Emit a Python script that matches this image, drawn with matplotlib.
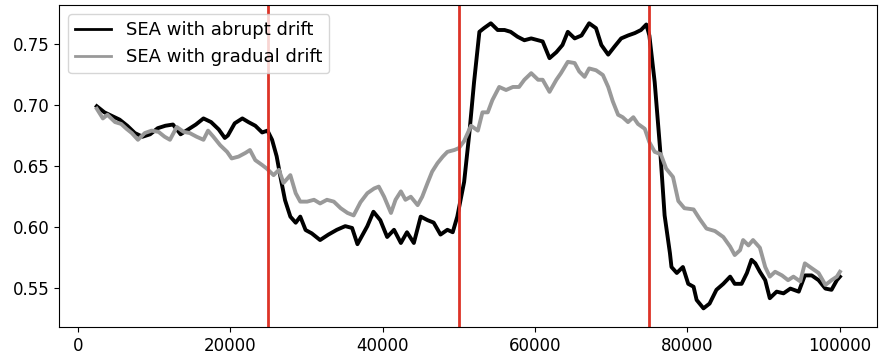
import numpy as np
import matplotlib
matplotlib.use("Agg")
import matplotlib.pyplot as plt

# SEA accuracy
abrupt_x = [2500, 3500, 4500, 5500, 6500, 7500, 8500, 9500, 10500, 11500,
            12500, 13500, 14500, 15500, 16500, 17500, 18500, 19300, 19700, 20600,
            21600, 22400, 23300, 24200, 24900, 25500, 26100, 26600, 27200, 27900,
            28600, 29200, 29900, 30700, 31800, 32900, 34000, 35100, 36000, 36700,
            38000, 38800, 39700, 40600, 41500, 42400, 43200, 44100, 45000, 45900,
            46700, 47600, 48500, 49200, 49800, 50700, 51400, 52000, 52700, 53300,
            54200, 55100, 56000, 56800, 57700, 58600, 59500, 60400, 61000, 61900,
            62800, 63600, 64300, 65200, 66100, 67100, 68000, 68700, 69600, 70400,
            71300, 72200, 73100, 73900, 74600, 75000, 75700, 76400, 77000, 77700,
            77900, 78600, 79400, 80100, 80800, 81200, 82100, 82900, 83800, 84700,
            85600, 86200, 87100, 87800, 88400, 88900, 89500, 90200, 90800, 91700,
            92600, 93500, 94600, 95400, 96300, 97200, 98100, 98900, 99600, 100000]
abrupt_y = [0.699, 0.694, 0.691, 0.688, 0.683, 0.677, 0.674, 0.676, 0.681, 0.683,
            0.684, 0.676, 0.680, 0.684, 0.689, 0.686, 0.680, 0.673, 0.675, 0.685,
            0.689, 0.686, 0.683, 0.6775, 0.679, 0.6715, 0.658, 0.641, 0.622, 0.6085,
            0.6035, 0.6085, 0.5975, 0.5948, 0.5893, 0.5938, 0.5977, 0.6007, 0.5992, 0.5859,
            0.6007, 0.6125, 0.6056, 0.5918, 0.5977, 0.5869, 0.5957, 0.5869, 0.6085, 0.6056,
            0.6036, 0.5938, 0.5977, 0.5957, 0.6085, 0.637, 0.678, 0.7187, 0.760, 0.763,
            0.767, 0.7615, 0.7615, 0.760, 0.756, 0.7531, 0.7546, 0.7531, 0.7521, 0.7384,
            0.7433, 0.7492, 0.760, 0.7546, 0.757, 0.767, 0.763, 0.7492, 0.7413, 0.7477,
            0.7546, 0.757, 0.759, 0.7615, 0.766, 0.757, 0.7187, 0.6646, 0.6095, 0.5785,
            0.5672, 0.5623, 0.5672, 0.5534, 0.551, 0.5402, 0.5333, 0.5372, 0.5485, 0.5534,
            0.5593, 0.5534, 0.5534, 0.5623, 0.5731, 0.5702, 0.5633, 0.5564, 0.5416, 0.547,
            0.5456, 0.5495, 0.547, 0.5603, 0.5603, 0.5564, 0.5495, 0.5485, 0.5564, 0.5593]

gradual_x = [2500, 3300, 3900, 4900, 5700, 6400, 7100, 7900, 8800, 9700,
             10600, 11400, 12100, 13000, 13900, 14700, 15600, 16500, 17100, 17800,
             18700, 19600, 20200, 21100, 22000, 22600, 23300, 24200, 24800, 25700,
             26400, 27000, 27900, 28600, 29200, 30100, 31000, 31800, 32700, 33600,
             34500, 35400, 36200, 37100, 38000, 38900, 39500, 40200, 41100, 41700,
             42400, 43000, 43700, 44600, 45200, 45900, 46500, 47200, 47900, 48500,
             49400, 50000, 50700, 51600, 52500, 53100, 53800, 54400, 55300, 56200,
             57100, 57900, 58600, 59500, 60400, 61000, 61900, 62800, 63400, 64300,
             65200, 65800, 66500, 67100, 68000, 68900, 69600, 70200, 70900, 71500,
             72200, 72900, 73500, 74400, 75000, 75700, 76500, 77200, 78100, 78800,
             79600, 80800, 81600, 82500, 83600, 84700, 85600, 86200, 86900, 87300,
             88000, 88600, 89500, 90200, 90800, 91500, 92400, 93200, 93900, 94800,
             95400, 96300, 97200, 98100, 98900, 99600, 100000]
gradual_y = [0.697, 0.689, 0.692, 0.686, 0.6845, 0.6805, 0.677, 0.6715, 0.677, 0.679,
             0.678, 0.674, 0.6715, 0.682, 0.678, 0.677, 0.674, 0.6715, 0.679, 0.674,
             0.667, 0.6616, 0.6562, 0.6577, 0.6607, 0.6631, 0.6548, 0.6508, 0.6479, 0.6425,
             0.6469, 0.6361, 0.6425, 0.6277, 0.6208, 0.6208, 0.6223, 0.6193, 0.6223, 0.6208,
             0.6154, 0.6115, 0.6095, 0.6203, 0.6277, 0.6316, 0.6331, 0.6248, 0.6115, 0.6223,
             0.6292, 0.6223, 0.6248, 0.6179, 0.6248, 0.6361, 0.6454, 0.6523, 0.6577, 0.6616,
             0.6631, 0.6646, 0.6705, 0.683, 0.679, 0.694, 0.694, 0.704, 0.7148, 0.7123,
             0.7148, 0.7148, 0.7207, 0.7261, 0.7207, 0.7207, 0.7108, 0.7207, 0.7261, 0.7354,
             0.7344, 0.7275, 0.7231, 0.730, 0.7285, 0.7246, 0.7148, 0.703, 0.692, 0.690,
             0.686, 0.690, 0.6845, 0.6805, 0.6695, 0.6616, 0.6597, 0.6479, 0.641, 0.6213,
             0.6154, 0.6144, 0.6066, 0.5987, 0.5967, 0.5918, 0.5839, 0.577, 0.581, 0.5893,
             0.5849, 0.5893, 0.583, 0.5672, 0.5593, 0.5633, 0.5603, 0.5564, 0.5593, 0.5554,
             0.5702, 0.5662, 0.5623, 0.5525, 0.5564, 0.5593, 0.5633]

drift_points = [25000, 50000, 75000]

fig = plt.figure(figsize=(8.85, 3.59), dpi=100)
ax = fig.add_axes([0.0667, 0.0891, 0.9243, 0.897])

ax.plot(abrupt_x, abrupt_y, color="black", lw=2.8, label="SEA with abrupt drift")
ax.plot(gradual_x, gradual_y, color="#999999", lw=2.8, label="SEA with gradual drift")
for d in drift_points:
    ax.axvline(d, color="#dd3327", lw=2)

ax.set_xlim(-2450, 104870)
ax.set_ylim(0.518, 0.782)
ax.set_xticks([0, 20000, 40000, 60000, 80000, 100000])
ax.set_yticks([0.55, 0.60, 0.65, 0.70, 0.75])
ax.tick_params(labelsize=12)
leg = ax.legend(loc="upper left", fontsize=13, handlelength=2)
for h in leg.get_lines():
    h.set_linewidth(2)

fig.savefig("out.png", dpi=100)
